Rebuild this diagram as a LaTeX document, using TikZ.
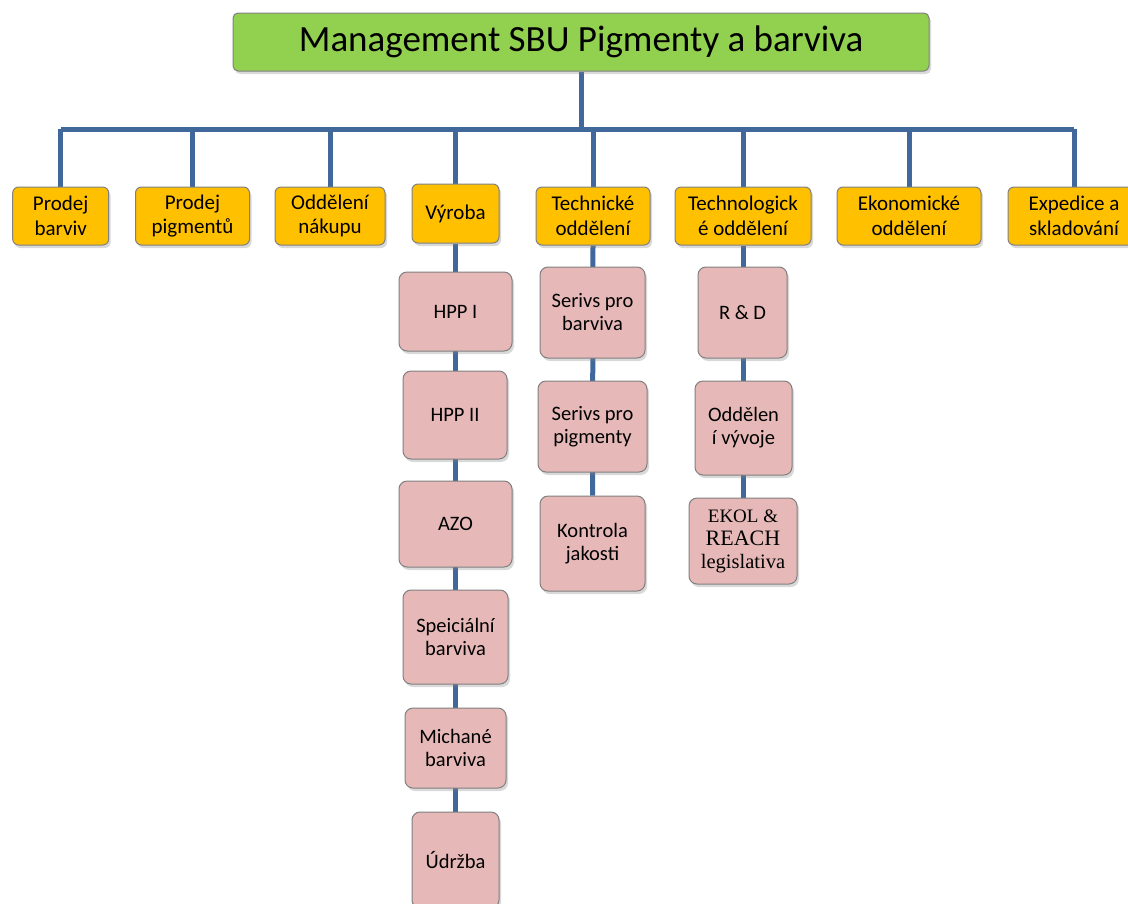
\documentclass[tikz,border=0pt]{standalone}
\usepackage{fontspec}
\setmainfont{Carlito}
\newfontfamily\timesfont{Liberation Serif}
\usetikzlibrary{shadows,backgrounds}
\definecolor{linkblue}{HTML}{41689B}
\definecolor{topgreen}{HTML}{92D050}
\definecolor{deptorange}{HTML}{FFC000}
\definecolor{unitpink}{HTML}{E6B9B8}
\tikzset{
  box/.style={draw=black!50,line width=1pt,align=center,inner sep=0pt,
    drop shadow={shadow xshift=2pt,shadow yshift=-3pt,opacity=.3}},
  topbox/.style={box,fill=topgreen,rounded corners=5pt,font=\fontsize{37}{42}\selectfont},
  dept/.style={box,fill=deptorange,rounded corners=6pt,minimum height=58pt,font=\fontsize{21}{24.5}\selectfont},
  unit/.style={box,fill=unitpink,rounded corners=8pt,font=\fontsize{20.5}{23}\selectfont},
  link/.style={draw=linkblue,line width=5pt}
}
\begin{document}
\begin{tikzpicture}[x=1pt,y=-1pt]
  \useasboundingbox (0,0) rectangle (1128,903);
  \node [topbox,minimum width=696pt,minimum height=58pt] (top) at (581,42) {Management SBU Pigmenty a barviva};
  \coordinate (bar) at (0,129);
  \node [dept,minimum width=96pt] (barviv) at (60.7,216) {Prodej\\barviv};
  \node [dept,minimum width=114pt] (pigm) at (192.5,216) {Prodej\\pigmentů};
  \node [dept,minimum width=110pt] (nakup) at (330,216) {Oddělení\\nákupu};
  \node [dept,minimum width=87pt,minimum height=59pt] (vyroba) at (455.5,213.5) {Výroba};
  \node [dept,minimum width=114pt] (tech) at (593,216) {Technické\\oddělení};
  \node [dept,minimum width=136pt] (techno) at (743,216) {Technologick\\é oddělení};
  \node [dept,minimum width=144pt] (ekon) at (909,216) {Ekonomické\\oddělení};
  \node [dept,minimum width=132pt] (exped) at (1074,216) {Expedice a\\skladování};
  \node [unit,minimum width=113pt,minimum height=79pt] (hppi) at (455.5,311.5) {HPP I};
  \node [unit,minimum width=104pt,minimum height=88pt] (hppii) at (455,415) {HPP II};
  \node [unit,minimum width=113pt,minimum height=86pt] (azo) at (455.5,524) {AZO};
  \node [unit,minimum width=105pt,minimum height=94pt] (spec) at (455.5,637) {Speiciální\\barviva};
  \node [unit,minimum width=101pt,minimum height=80pt] (mich) at (455.5,748) {Michané\\barviva};
  \node [unit,minimum width=87pt,minimum height=96pt] (udrz) at (455.5,860) {Údržba};
  \node [unit,minimum width=105pt,minimum height=91pt] (servb) at (592.5,312.5) {Serivs pro\\barviva};
  \node [unit,minimum width=109pt,minimum height=91pt] (servp) at (592.5,426.5) {Serivs pro\\pigmenty};
  \node [unit,minimum width=105pt,minimum height=95pt] (kontr) at (592.5,543.5) {Kontrola\\jakosti};
  \node [unit,minimum width=89pt,minimum height=91pt] (rd) at (742.5,312.5) {R \& D};
  \node [unit,minimum width=97pt,minimum height=94pt] (vyvoj) at (743.5,428) {Oddělen\\í vývoje};
  \node [unit,minimum width=108pt,minimum height=86pt,font=\timesfont\fontsize{20.5}{23}\selectfont] (ekol) at (743,541) {{\fontsize{19}{23}\selectfont EKOL \&}\\{\fontsize{22}{23}\selectfont REACH}\\legislativa};
  \begin{scope}[on background layer]
    \draw [link] (top.south) -- (top.south |- bar);
    \draw [link] (barviv.north |- bar) -- (exped.north |- bar);
    \foreach \d in {barviv,pigm,nakup,vyroba,tech,techno,ekon,exped}
      \draw [link] (\d.north) -- (\d.north |- bar);
    \draw [link] (vyroba.south) -- (udrz.north);
    \draw [link] (tech.south) -- (kontr.north);
    \draw [link] (techno.south) -- (ekol.north);
  \end{scope}
\end{tikzpicture}
\end{document}
